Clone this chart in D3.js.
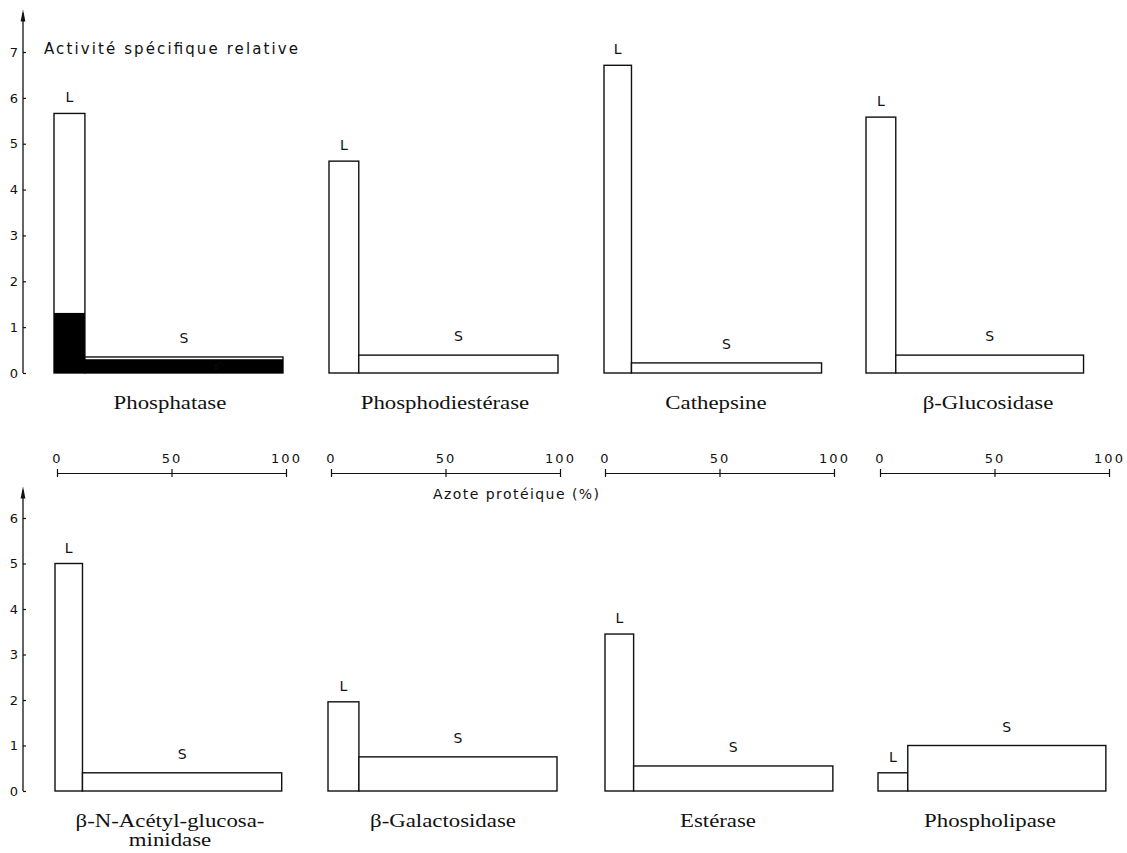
<!DOCTYPE html>
<html>
<head>
<meta charset="utf-8">
<script src="https://cdn.jsdelivr.net/npm/d3@7"></script>
<style>
  body { margin: 0; background: #fff; }
  svg { display: block; }
  .tick text { font-family: "DejaVu Sans", sans-serif; font-size: 13px; fill: #111; }
  .name { font-family: "Liberation Serif", "Times New Roman", serif; font-size: 19px; fill: #111; }
  .lab { font-family: "DejaVu Sans", sans-serif; font-size: 14px; fill: #111; }
</style>
</head>
<body>
<div id="chart"></div>
<script>
// enzymes, one panel each (4 on top, 4 below)
var enzymes = ["Phosphatase", "Phosphodiestérase", "Cathepsine", "β-Glucosidase",
               "β-N-Acétyl-glucosa-|minidase", "β-Galactosidase", "Estérase", "Phospholipase"];
// protein nitrogen (%) of each fraction
var azoteL = [13.5, 13, 12, 13, 12, 13.5, 12.5, 13];
var azoteS = [86.5, 87, 83, 82, 87, 86.5, 87, 86.5];
// relative specific activity
var activL = [5.66, 4.62, 6.71, 5.58, 5.0, 1.96, 3.45, 0.4];
var activS = [0.35, 0.39, 0.22, 0.39, 0.4, 0.75, 0.55, 1.0];
// free (black) part, phosphatase only
var libreL = [1.31];
var libreS = [0.30];
var yTicksTop = [0, 1, 2, 3, 4, 5, 6, 7];
var yTicksBot = [0, 1, 2, 3, 4, 5, 6];
var xTicks = [0, 50, 100];

var w = 1127, h = 853;
var svg = d3.select("#chart").append("svg").attr("width", w).attr("height", h);

//arrow head for the y axes (points along the line)
var defs = svg.append("defs");
defs.append("marker").attr("id", "arrow")
    .attr("viewBox", "0 0 20 10").attr("refX", 14).attr("refY", 5)
    .attr("markerUnits", "userSpaceOnUse")
    .attr("markerWidth", 13).attr("markerHeight", 6).attr("orient", "auto")
    .append("path").attr("d", "M0,1 L20,5 L0,9 Z").attr("fill", "#111");

// layout of the panels
var barOrigins = [54, 329, 604, 866, 55, 328, 605, 878];
var nameX = [170, 445, 716, 988, 170, 443, 718, 990];
var axisOrigins = [57, 331, 605, 880];
var pxPer100 = 229;

var yTop = d3.scaleLinear().domain([0, 7]).range([373, 52]);
var yBot = d3.scaleLinear().domain([0, 6]).range([791, 518]);

//y axes
function yAxis(scale, ticks, tipY) {
    var g = svg.append("g").attr("transform", "translate(23,0)");
    g.append("line").attr("x1", 0).attr("x2", 0)
        .attr("y1", scale(0)).attr("y2", tipY + 5)
        .attr("stroke", "#111").attr("stroke-width", 1.3)
        .attr("marker-end", "url(#arrow)");
    g.call(d3.axisLeft(scale).tickValues(ticks).tickFormat(d3.format("d"))
        .tickSizeInner(-3).tickSizeOuter(0).tickPadding(5));
    g.select(".domain").remove();
    g.selectAll(".tick line").attr("stroke", "#111").attr("stroke-width", 1.2);
}
yAxis(yTop, yTicksTop, 8);
yAxis(yBot, yTicksBot, 485);

svg.append("text").attr("class", "lab")
    .attr("x", 44).attr("y", 54)
    .attr("textLength", 254).attr("lengthAdjust", "spacing")
    .style("font-size", "15px")
    .text("Activité spécifique relative");

//shared x axes (protein nitrogen)
axisOrigins.forEach(function (x0) {
    var x = d3.scaleLinear().domain([0, 100]).range([x0, x0 + pxPer100]);
    var g = svg.append("g").attr("transform", "translate(0,473)");
    g.call(d3.axisTop(x).tickValues(xTicks).tickSizeInner(4).tickSizeOuter(0).tickPadding(6)
        .tickFormat(function (d) { return d; }));
    g.selectAll(".tick line").attr("y1", 4).attr("stroke", "#111").attr("stroke-width", 1.2);
    g.select(".domain").attr("stroke", "#111");
    g.selectAll(".tick text").style("letter-spacing", "2px");
});
svg.append("text").attr("class", "lab")
    .attr("x", 433).attr("y", 499)
    .attr("textLength", 166).attr("lengthAdjust", "spacing")
    .text("Azote protéique (%)");

//draw the panels
enzymes.forEach(function (name, i) {
    var y = i < 4 ? yTop : yBot;
    var x = d3.scaleLinear().domain([0, 100]).range([barOrigins[i], barOrigins[i] + pxPer100]);
    var g = svg.append("g");
    var bars = [
        {k: "L", a: 0, b: azoteL[i], v: activL[i], off: 11},
        {k: "S", a: azoteL[i], b: azoteL[i] + azoteS[i], v: activS[i], off: 14}
    ];
    g.selectAll("rect.bar").data(bars).enter().append("rect")
        .attr("class", "bar")
        .attr("x", function (d) { return x(d.a); })
        .attr("y", function (d) { return y(d.v); })
        .attr("width", function (d) { return x(d.b) - x(d.a); })
        .attr("height", function (d) { return y(0) - y(d.v); })
        .attr("fill", "#fff").attr("stroke", "#111").attr("stroke-width", 1.4);

    if (i === 0) {
        var black = [
            {a: 0, b: azoteL[0], v: libreL[0]},
            {a: azoteL[0], b: azoteL[0] + azoteS[0], v: libreS[0]}
        ];
        g.selectAll("rect.free").data(black).enter().append("rect")
            .attr("class", "free")
            .attr("x", function (d) { return x(d.a); })
            .attr("y", function (d) { return y(d.v); })
            .attr("width", function (d) { return x(d.b) - x(d.a); })
            .attr("height", function (d) { return y(0) - y(d.v); })
            .attr("fill", "#000");
        g.append("text").attr("class", "lab")
            .attr("x", x(70)).attr("y", y(0.08))
            .style("font-size", "8px").attr("fill", "#fff")
            .text("s'");
    }

    g.selectAll("text.fr").data(bars).enter().append("text")
        .attr("class", "lab fr")
        .attr("text-anchor", "middle")
        .attr("x", function (d) { return (x(d.a) + x(d.b)) / 2; })
        .attr("y", function (d) { return y(d.v) - d.off; })
        .text(function (d) { return d.k; });

    //names, stretched a bit like the printed type
    var lines = name.split("|");
    var baseY = i < 4 ? 409 : 827;
    lines.forEach(function (t, j) {
        var txt = g.append("text").attr("class", "name")
            .attr("text-anchor", "middle")
            .attr("x", nameX[i]).attr("y", baseY + j * 19)
            .text(t);
        var len = txt.node().getComputedTextLength();
        txt.attr("textLength", len * 1.2).attr("lengthAdjust", "spacingAndGlyphs");
    });
});
</script>
</body>
</html>
